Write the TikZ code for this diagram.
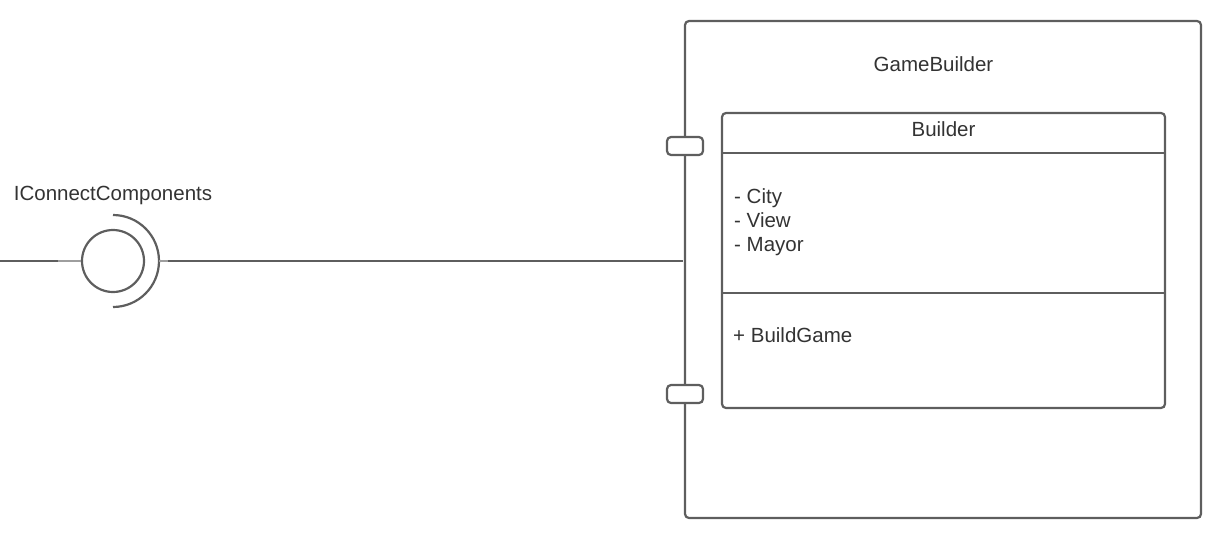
\documentclass[tikz,border=0pt]{standalone}
\usepackage{fontspec}
\setmainfont{Liberation Sans}
\definecolor{ln}{HTML}{5E5E5E}
\definecolor{tx}{HTML}{333333}
\begin{document}
\begin{tikzpicture}[x=1pt,y=-1pt,
  box/.style={draw=ln,line width=2.2pt,rounded corners=4pt},
  lbl/.style={text=tx,font=\fontsize{20.5}{24.4}\selectfont,inner sep=0pt},
  conn/.style={draw=ln,line width=1.6pt}]
\useasboundingbox (0,0) rectangle (1224,544);
% outer component
\draw[box] (685,21) rectangle (1201,518);
\node[lbl,anchor=base] (gb) at (933.5,71) {GameBuilder};
% ports
\node[box,minimum width=36pt,minimum height=18pt,inner sep=0pt,fill=white] (p1) at (685,146) {};
\node[box,minimum width=36pt,minimum height=18pt,inner sep=0pt,fill=white] (p2) at (685,394) {};
% inner class
\draw[box] (722,113) rectangle (1165,408);
\draw[draw=ln,line width=2.2pt] (722,153) -- (1165,153);
\draw[draw=ln,line width=2.2pt] (722,293) -- (1165,293);
\node[lbl,anchor=base] (cls) at (943.5,136.7) {Builder};
\node[lbl,anchor=base west] (a1) at (734,203) {- City};
\node[lbl,anchor=base west] (a2) at (734,227.5) {- View};
\node[lbl,anchor=base west] (a3) at (734,251.8) {- Mayor};
\node[lbl,anchor=base west] (op) at (733,342.7) {+ BuildGame};
% interface
\node[lbl,anchor=base] (ic) at (113,200.7) {IConnectComponents};
\node[circle,draw=ln,line width=2.2pt,minimum size=62pt,inner sep=0pt] (ball) at (113,261) {};
\draw[draw=ln,line width=2.2pt] (113,215) arc[start angle=-90,end angle=90,radius=46];
\coordinate (lend) at (0,261);
\coordinate (rend) at (683,261);
\draw[conn] (lend) -- (58,261);
\draw[draw=ln!60,line width=2pt] (58,261) -- (ball.west);
\draw[draw=ln!60,line width=2pt] (159,261) -- (168,261);
\draw[conn] (168,261) -- (rend);
\end{tikzpicture}
\end{document}
